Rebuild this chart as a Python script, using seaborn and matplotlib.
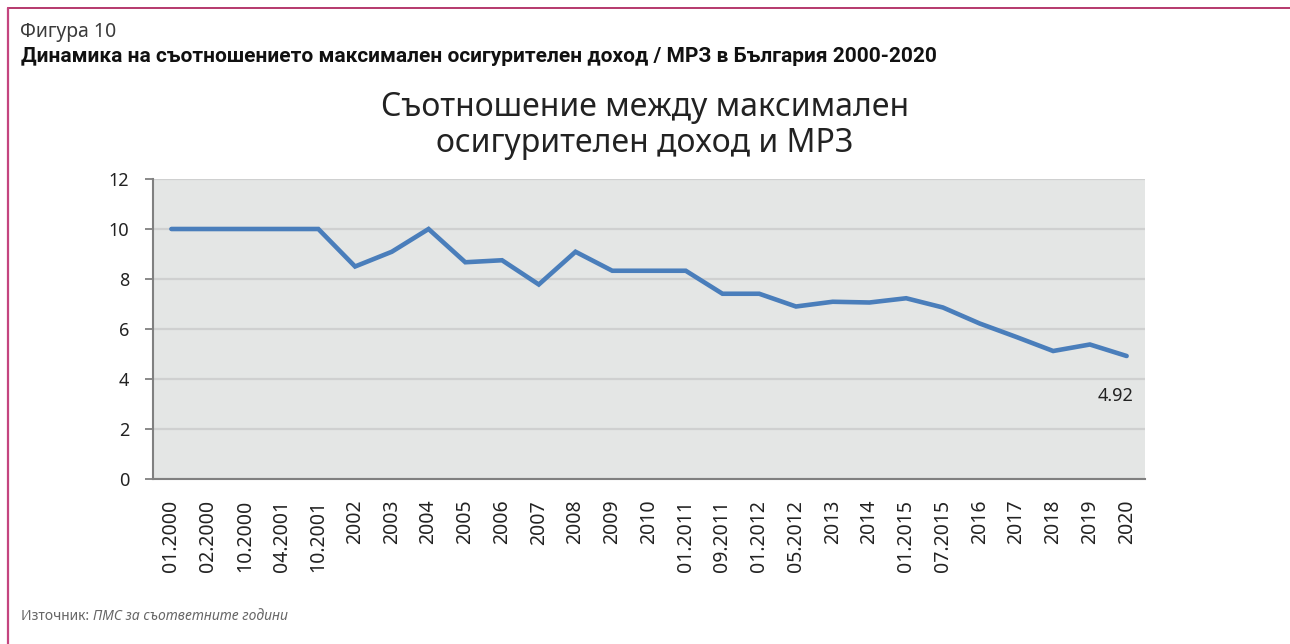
import numpy as np
import pandas as pd
import matplotlib
matplotlib.use("Agg")
import matplotlib.pyplot as plt
import seaborn as sns
from matplotlib.lines import Line2D

categories = ["01.2000", "02.2000", "10.2000", "04.2001", "10.2001", "2002", "2003",
              "2004", "2005", "2006", "2007", "2008", "2009", "2010", "01.2011",
              "09.2011", "01.2012", "05.2012", "2013", "2014", "01.2015", "07.2015",
              "2016", "2017", "2018", "2019", "2020"]
ratio = [10, 10, 10, 10, 10, 8.5, 9.09, 10, 8.67, 8.75, 7.78, 9.09, 8.33, 8.33,
         8.33, 7.41, 7.41, 6.9, 7.09, 7.06, 7.23, 6.86, 6.22, 5.68, 5.12, 5.38, 4.92]
y_ticks = [0, 2, 4, 6, 8, 10, 12]

sns.set_theme(style="white")
plt.rcParams["font.family"] = ["Noto Sans", "DejaVu Sans"]

df = pd.DataFrame({"pos": np.arange(len(categories)), "label": categories, "ratio": ratio})

fig = plt.figure(figsize=(12.9, 6.44), dpi=100)
ax = fig.add_axes([153/1290, 1-479/644, (1145-153)/1290, 300/644])
ax.set_facecolor("#e4e6e5")

sns.lineplot(data=df, x="pos", y="ratio", ax=ax, color="#4a7ebb", linewidth=3.3,
             solid_capstyle="round", solid_joinstyle="miter", zorder=3)

ax.set_xlim(-0.5, len(categories) - 0.5)
ax.set_ylim(0, 12)
ax.set_yticks(y_ticks)
ax.set_yticklabels([str(t) for t in y_ticks], fontsize=13, color="#222222")
ax.set_xticks(df["pos"])
ax.set_xticklabels(categories, rotation=90, fontsize=14, color="#222222",
                   ha="center", va="top")
ax.set_xticks(np.arange(len(categories) + 1) - 0.5, minor=True)
ax.tick_params(axis="x", which="major", length=0, pad=15)
ax.tick_params(axis="x", which="minor", length=6, width=1.3, color="#808080", direction="out")
ax.tick_params(axis="y", which="major", length=6, width=1.3, color="#808080",
               direction="out", pad=11, left=True)
ax.set_xlabel("")
ax.set_ylabel("")
ax.grid(axis="y", color="#cfd0d0", linewidth=1.6, zorder=1)
ax.grid(axis="x", visible=False)
ax.set_axisbelow(True)
for s in ["top", "right"]:
    ax.spines[s].set_visible(False)
for s in ["left", "bottom"]:
    ax.spines[s].set_color("#808080")
    ax.spines[s].set_linewidth(1.5)

ax.annotate(f"{ratio[-1]:.2f}", xy=(df["pos"].iloc[-1], ratio[-1]), xytext=(-8, -22),
            textcoords="offset points", ha="center", va="top", fontsize=13, color="#222222")

fig.text(0.5, 1-107/644, "Съотношение между максимален", ha="center", va="center",
         fontsize=23, color="#222222")
fig.text(0.5, 1-143/644, "осигурителен доход и МРЗ", ha="center", va="center",
         fontsize=23, color="#222222")

fig.text(20/1290, 1-32/644, "Фигура 10", ha="left", va="center", fontsize=14,
         color="#3a3a3a", fontweight="light")
fig.text(21/1290, 1-56/644, "Динамика на съотношението максимален осигурителен доход / МРЗ в България 2000-2020",
         ha="left", va="center", fontsize=15, fontweight="bold", color="#111111",
         family=["Roboto", "DejaVu Sans"])

t1 = fig.text(21/1290, 1-617/644, "Източник: ", ha="left", va="center", fontsize=10,
              color="#666666")
fig.canvas.draw()
bb = t1.get_window_extent()
fig.text(bb.x1/1290, 1-617/644, "ПМС за съответните години", ha="left", va="center",
         fontsize=10, color="#666666", style="italic")

fig.add_artist(Line2D([8/1290, 1], [1-8/644, 1-8/644], transform=fig.transFigure,
                      color="#b5396d", linewidth=1.4))
fig.add_artist(Line2D([8/1290, 8/1290], [0, 1-8/644], transform=fig.transFigure,
                      color="#c4457f", linewidth=1.6))

fig.savefig("out.png", dpi=100)
